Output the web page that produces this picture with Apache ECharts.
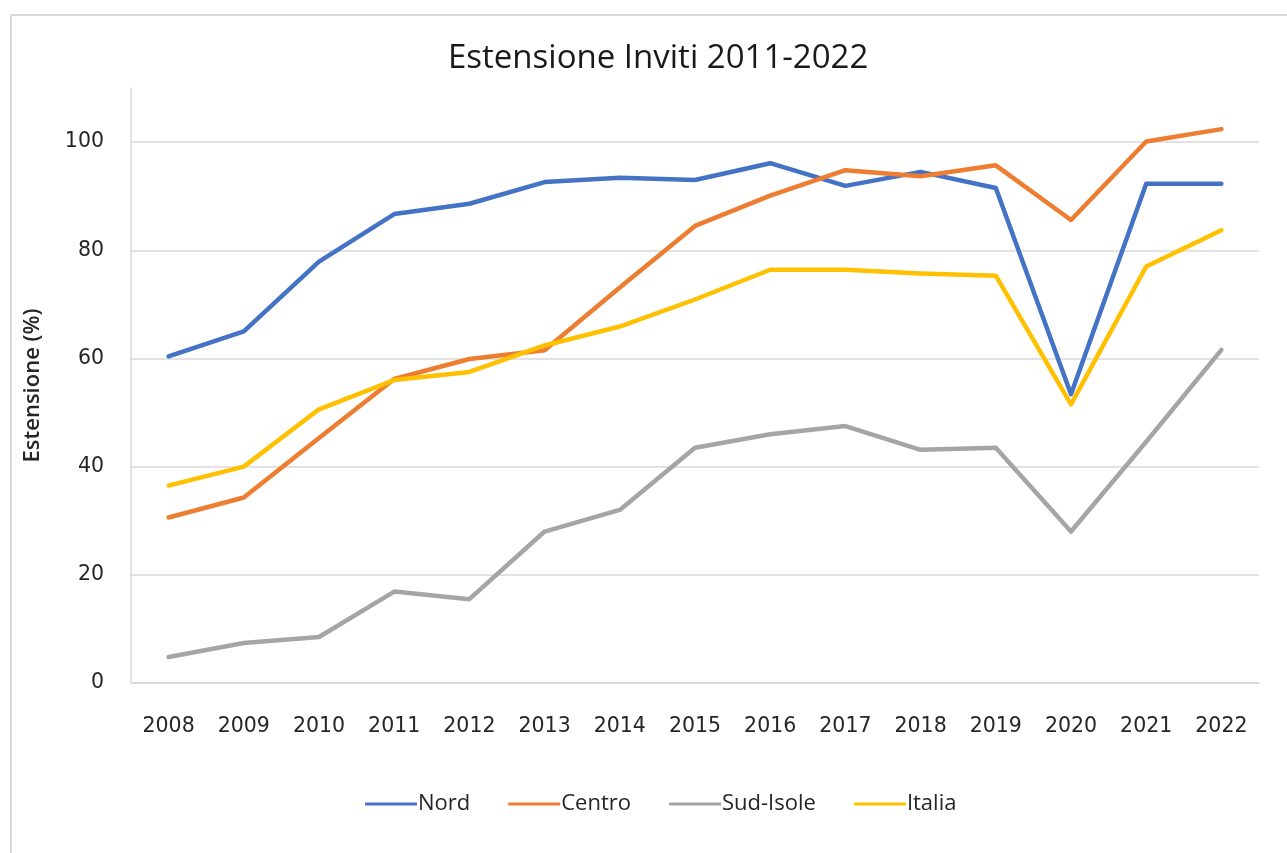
<!DOCTYPE html>
<html>
<head>
<meta charset="utf-8">
<script src="https://cdn.jsdelivr.net/npm/echarts@6/dist/echarts.min.js"></script>
<style>
html,body{margin:0;padding:0;background:#fff;}
#chart{width:1287px;height:853px;}
</style>
</head>
<body>
<div id="chart"></div>
<script>
const categories = ['2008','2009','2010','2011','2012','2013','2014','2015','2016','2017','2018','2019','2020','2021','2022'];
const nord      = [60.4, 65.0, 77.9, 86.7, 88.6, 92.6, 93.4, 93.0, 96.1, 91.9, 94.5, 91.5, 53.4, 92.3, 92.3];
const centro    = [30.6, 34.3, 45.3, 56.2, 59.9, 61.5, 73.1, 84.5, 90.1, 94.8, 93.7, 95.7, 85.6, 100.1, 102.4];
const sudIsole  = [4.8, 7.4, 8.5, 16.9, 15.5, 28.0, 32.0, 43.5, 46.0, 47.5, 43.1, 43.5, 28.0, 44.6, 61.6];
const italia    = [36.5, 40.0, 50.6, 56.0, 57.5, 62.4, 65.9, 70.9, 76.4, 76.4, 75.7, 75.3, 51.5, 77.0, 83.7];
const seriesNames = ['Nord','Centro','Sud-Isole','Italia'];
const colors = ['#4472C4','#ED7D31','#A5A5A5','#FFC000'];
const yMin = 0, yMax = 110, yInterval = 20;

const chart = echarts.init(document.getElementById('chart'), null, {renderer:'canvas'});
const dataSets = [nord, centro, sudIsole, italia];
chart.setOption({
  animation: false,
  color: colors,
  graphic: [{
    type: 'rect', silent: true,
    shape: {x: 11, y: 15, width: 1300, height: 860},
    style: {fill: 'none', stroke: '#d9d9d9', lineWidth: 2}
  }],
  title: {
    text: 'Estensione Inviti 2011-2022',
    left: 443, top: 37,
    textStyle: {fontFamily: 'Open Sans', fontSize: 33, fontWeight: 'normal', color: '#1a1a1a'}
  },
  legend: {
    bottom: 33, left: 360,
    itemWidth: 52, itemHeight: 3, itemGap: 38,
    icon: 'rect',
    textStyle: {fontFamily: 'Open Sans', fontSize: 22, color: '#262626', padding: [0,0,0,-4]},
    data: seriesNames
  },
  grid: {left: 131, right: 28, top: 88, bottom: 170, containLabel: false},
  xAxis: {
    type: 'category', data: categories, boundaryGap: true,
    axisLine: {show: true, lineStyle: {color: '#d9d9d9', width: 1.5}},
    axisTick: {show: false},
    axisLabel: {margin: 33, fontFamily: 'DejaVu Sans', fontSize: 20.5, color: '#262626'}
  },
  yAxis: {
    type: 'value', min: yMin, max: yMax, interval: yInterval,
    name: 'Estensione (%)', nameLocation: 'middle', nameGap: 87,
    nameTextStyle: {fontFamily: 'Open Sans', fontSize: 22, fontWeight: 600, color: '#262626'},
    axisLine: {show: true, lineStyle: {color: '#d9d9d9', width: 1.5}},
    axisTick: {show: false},
    axisLabel: {margin: 27, fontFamily: 'DejaVu Sans', fontSize: 20.5, color: '#262626', showMaxLabel: false},
    splitLine: {show: true, lineStyle: {color: ['#d9d9d9','#d9d9d9','#d9d9d9','#d9d9d9','#d9d9d9','#d9d9d9','rgba(0,0,0,0)'], width: 1.5}}
  },
  series: dataSets.map((d, i) => ({
    name: seriesNames[i], type: 'line', data: d,
    symbol: 'none', smooth: false,
    lineStyle: {width: 4.5, color: colors[i], cap: 'round', join: 'round'},
    itemStyle: {color: colors[i]}
  }))
});
</script>
</body>
</html>
